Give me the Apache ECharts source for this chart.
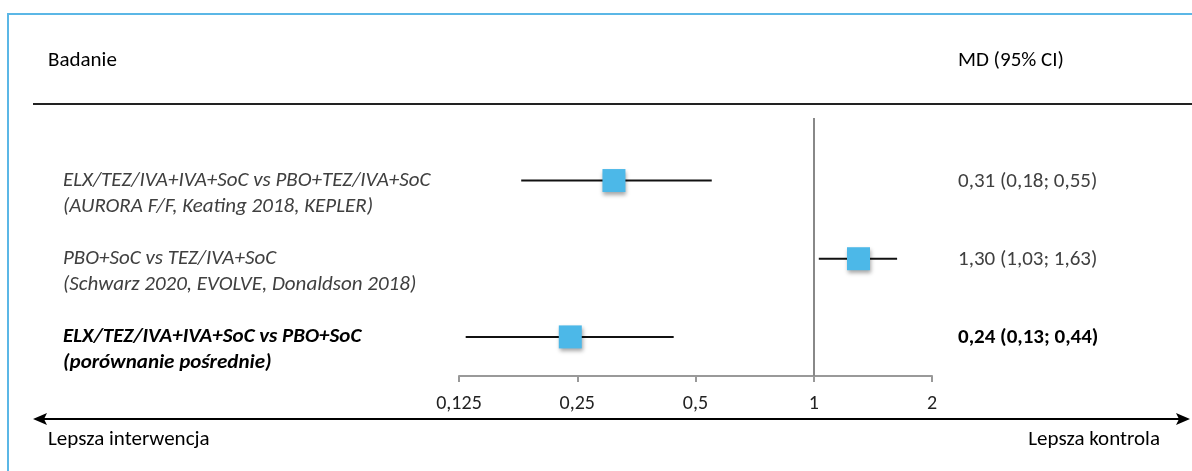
<!DOCTYPE html>
<html>
<head>
<meta charset="utf-8">
<script src="https://cdn.jsdelivr.net/npm/echarts@6/dist/echarts.min.js"></script>
<style>
  html, body { margin: 0; padding: 0; background: #fff; }
  #main { width: 1192px; height: 471px; }
</style>
</head>
<body>
<div id="main"></div>
<script>
// rows of the forest plot
var studies = [
    'ELX/TEZ/IVA+IVA+SoC vs PBO+TEZ/IVA+SoC',
    'PBO+SoC vs TEZ/IVA+SoC',
    'ELX/TEZ/IVA+IVA+SoC vs PBO+SoC'
]
var sources = [
    '(AURORA F/F, Keating 2018, KEPLER)',
    '(Schwarz 2020, EVOLVE, Donaldson 2018)',
    '(porównanie pośrednie)'
]
var md = [0.31, 1.30, 0.24]
var ciLow = [0.18, 1.03, 0.13]
var ciHigh = [0.55, 1.63, 0.44]
var mdText = ['0,31 (0,18; 0,55)', '1,30 (1,03; 1,63)', '0,24 (0,13; 0,44)']
var rowPos = [1, 2, 3]
var tickValues = [0.125, 0.25, 0.5, 1, 2]

var FONT = 'Carlito, Lato, sans-serif'
var FS = 21

var chart = echarts.init(document.getElementById('main'))

var data = md.map(function (v, i) {
    return [ciLow[i], v, ciHigh[i], rowPos[i], i]
})

function fmtTick(v) {
    return String(v).replace('.', ',')
}

var option = {
    animation: false,
    grid: { left: 459, right: 260, top: 118, bottom: 95 },
    xAxis: {
        type: 'log',
        logBase: 2,
        min: 0.125,
        max: 2,
        splitLine: { show: false },
        axisLine: { show: true, lineStyle: { color: '#999', width: 2 } },
        axisTick: { show: true, length: 6, lineStyle: { color: '#999', width: 2 } },
        minorTick: { show: false },
        axisLabel: {
            margin: 18,
            color: '#222',
            fontSize: 20,
            fontFamily: FONT,
            formatter: function (v) {
                return tickValues.indexOf(+v.toFixed(3)) >= 0 ? fmtTick(+v.toFixed(3)) : ''
            }
        }
    },
    yAxis: {
        type: 'value',
        min: 0.2,
        max: 3.5,
        inverse: true,
        show: false
    },
    series: [
        {
            type: 'custom',
            clip: false,
            data: data,
            encode: { x: [0, 1, 2], y: 3 },
            renderItem: function (params, api) {
                var i = api.value(4)
                var row = api.value(3)
                var pLo = api.coord([api.value(0), row])
                var pEst = api.coord([api.value(1), row])
                var pHi = api.coord([api.value(2), row])
                var bold = i === 2
                var y = pEst[1]
                var sz = 23
                var col = bold ? '#000' : '#404040'
                return {
                    type: 'group',
                    children: [
                        {
                            type: 'line',
                            shape: { x1: pLo[0], y1: y, x2: pHi[0], y2: y },
                            style: { stroke: '#111', lineWidth: 2 }
                        },
                        {
                            type: 'rect',
                            shape: { x: pEst[0] - sz / 2, y: y - sz / 2, width: sz, height: sz },
                            style: {
                                fill: '#4cb8e8',
                                shadowBlur: 4,
                                shadowOffsetX: 1,
                                shadowOffsetY: 3,
                                shadowColor: 'rgba(0,0,0,0.35)'
                            }
                        },
                        {
                            type: 'text',
                            x: 63, y: y,
                            style: {
                                text: studies[i],
                                fill: col,
                                font: (bold ? 'italic bold ' : 'italic ') + FS + 'px ' + FONT,
                                verticalAlign: 'middle'
                            }
                        },
                        {
                            type: 'text',
                            x: 63, y: y + 26,
                            style: {
                                text: sources[i],
                                fill: col,
                                font: (bold ? 'italic bold ' : 'italic ') + FS + 'px ' + FONT,
                                verticalAlign: 'middle'
                            }
                        },
                        {
                            type: 'text',
                            x: 958, y: y + 1,
                            style: {
                                text: mdText[i],
                                fill: col,
                                font: (bold ? 'bold ' : '') + FS + 'px ' + FONT,
                                verticalAlign: 'middle'
                            }
                        }
                    ]
                }
            },
            markLine: {
                silent: true,
                symbol: 'none',
                label: { show: false },
                lineStyle: { color: '#888', width: 2, type: 'solid' },
                data: [{ xAxis: 1 }]
            },
            z: 3
        }
    ],
    graphic: [
        {
            type: 'polyline',
            shape: { points: [[8, 480], [8, 14], [1200, 14]] },
            style: { stroke: '#5bb7e6', lineWidth: 2, fill: null }
        },
        {
            type: 'line',
            shape: { x1: 33, y1: 104, x2: 1192, y2: 104 },
            style: { stroke: '#222', lineWidth: 2 }
        },
        {
            type: 'text', x: 48, y: 61,
            style: { text: 'Badanie', fill: '#000', font: FS + 'px ' + FONT, verticalAlign: 'middle' }
        },
        {
            type: 'text', x: 958, y: 61,
            style: { text: 'MD (95% CI)', fill: '#000', font: FS + 'px ' + FONT, verticalAlign: 'middle' }
        },
        {
            type: 'line',
            shape: { x1: 40, y1: 419, x2: 1182, y2: 419 },
            style: { stroke: '#000', lineWidth: 2 }
        },
        {
            type: 'polygon',
            shape: { points: [[33, 419], [47, 413], [44, 419], [47, 425]] },
            style: { fill: '#000' }
        },
        {
            type: 'polygon',
            shape: { points: [[1190, 419], [1176, 413], [1179, 419], [1176, 425]] },
            style: { fill: '#000' }
        },
        {
            type: 'text', x: 48, y: 440,
            style: { text: 'Lepsza interwencja', fill: '#000', font: FS + 'px ' + FONT, verticalAlign: 'middle' }
        },
        {
            type: 'text', x: 1160, y: 440,
            style: { text: 'Lepsza kontrola', fill: '#000', font: FS + 'px ' + FONT, verticalAlign: 'middle', align: 'right' }
        }
    ]
}

chart.setOption(option)
</script>
</body>
</html>
